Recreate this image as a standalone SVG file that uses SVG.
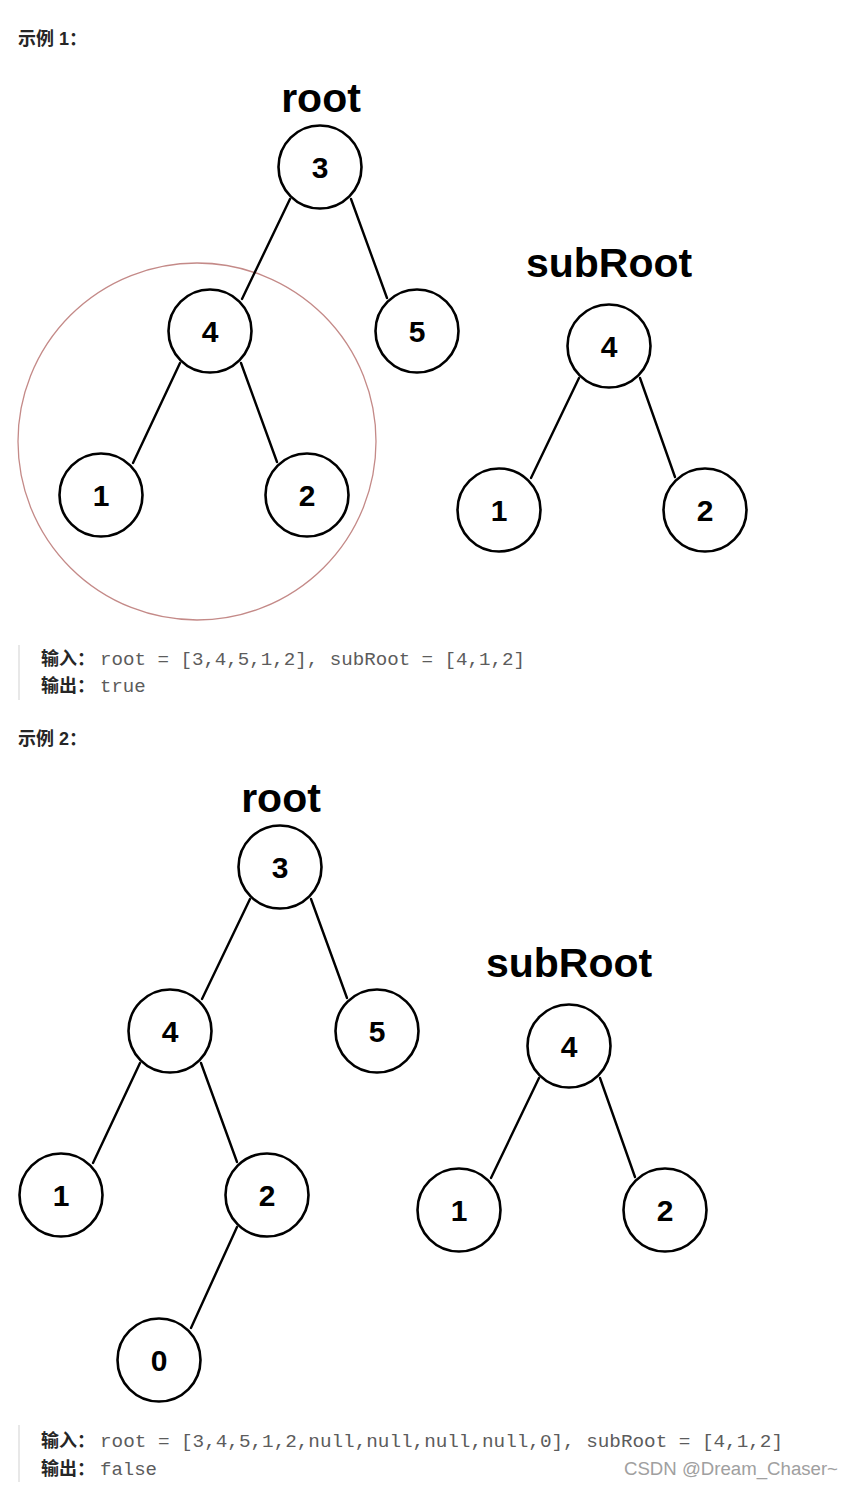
<svg xmlns="http://www.w3.org/2000/svg" width="854" height="1487" viewBox="0 0 854 1487">
<style>
.bg{fill:#ffffff}
.node circle{fill:#ffffff;stroke:#000000;stroke-width:2.6}
.node text{font-family:"Liberation Sans",Arial,sans-serif;font-weight:bold;font-size:30px;fill:#000000;text-anchor:middle}
.edges line{stroke:#000000;stroke-width:2.4;stroke-linecap:round}
.lbl{font-family:"Liberation Sans",Arial,sans-serif;font-weight:bold;font-size:41px;fill:#000000;text-anchor:middle}
.hd{font-family:"Liberation Sans","Noto Sans CJK SC",sans-serif;font-weight:bold;font-size:18px;fill:#262626}
.k{font-family:"Liberation Sans","Noto Sans CJK SC",sans-serif;font-weight:bold;font-size:18px;fill:#262626}
.code{font-family:"Liberation Mono","DejaVu Sans Mono",monospace;font-size:19px;fill:#5c5c5c}
.bar{fill:#e8e8e8}
.wm{font-family:"Liberation Sans",Arial,sans-serif;font-size:18px;fill:#a0a0a0}
</style>
<rect class="bg" x="0" y="0" width="854" height="1487"/>

<!-- Example 1 -->
<text class="hd" x="18" y="45">示例 1：</text>
<ellipse id="highlight" cx="197" cy="441.5" rx="179" ry="178.5" fill="none" stroke="#c48a88" stroke-width="1.3"/>
<text id="root1-label" class="lbl" x="321" y="112">root</text>
<text id="sub1-label" class="lbl" x="609" y="277">subRoot</text>
<g id="edges1" class="edges">
<line x1="290" y1="199" x2="242" y2="299"/>
<line x1="351" y1="199" x2="387" y2="298"/>
<line x1="180" y1="363" x2="133" y2="463"/>
<line x1="241" y1="363" x2="277" y2="462"/>
<line x1="579" y1="378" x2="531" y2="478"/>
<line x1="640" y1="378" x2="675" y2="477"/>
</g>
<g id="e1-n3" class="node"><circle cx="320" cy="167" r="41.5"/><text x="320" y="178">3</text></g>
<g id="e1-n4" class="node"><circle cx="210" cy="331" r="41.5"/><text x="210" y="342">4</text></g>
<g id="e1-n5" class="node"><circle cx="417" cy="331" r="41.5"/><text x="417" y="342">5</text></g>
<g id="e1-n1" class="node"><circle cx="101" cy="495" r="41.5"/><text x="101" y="506">1</text></g>
<g id="e1-n2" class="node"><circle cx="307" cy="495" r="41.5"/><text x="307" y="506">2</text></g>
<g id="e1-s4" class="node"><circle cx="609" cy="346" r="41.5"/><text x="609" y="357">4</text></g>
<g id="e1-s1" class="node"><circle cx="499" cy="510" r="41.5"/><text x="499" y="521">1</text></g>
<g id="e1-s2" class="node"><circle cx="705" cy="510" r="41.5"/><text x="705" y="521">2</text></g>

<rect class="bar" x="18" y="645" width="2" height="55"/>
<text class="k" x="41" y="665">输入：</text>
<text class="code" x="100" y="665" textLength="425" lengthAdjust="spacingAndGlyphs">root = [3,4,5,1,2], subRoot = [4,1,2]</text>
<text class="k" x="41" y="692">输出：</text>
<text class="code" x="100" y="692">true</text>

<!-- Example 2 -->
<text class="hd" x="18" y="745">示例 2：</text>
<text id="root2-label" class="lbl" x="281" y="812">root</text>
<text id="sub2-label" class="lbl" x="569" y="977">subRoot</text>
<g id="edges2" class="edges">
<line x1="250" y1="899" x2="202" y2="999"/>
<line x1="311" y1="899" x2="347" y2="998"/>
<line x1="140" y1="1063" x2="93" y2="1163"/>
<line x1="201" y1="1063" x2="237" y2="1162"/>
<line x1="237" y1="1227" x2="191" y2="1328"/>
<line x1="539" y1="1078" x2="491" y2="1178"/>
<line x1="600" y1="1078" x2="635" y2="1177"/>
</g>
<g id="e2-n3" class="node"><circle cx="280" cy="867" r="41.5"/><text x="280" y="878">3</text></g>
<g id="e2-n4" class="node"><circle cx="170" cy="1031" r="41.5"/><text x="170" y="1042">4</text></g>
<g id="e2-n5" class="node"><circle cx="377" cy="1031" r="41.5"/><text x="377" y="1042">5</text></g>
<g id="e2-n1" class="node"><circle cx="61" cy="1195" r="41.5"/><text x="61" y="1206">1</text></g>
<g id="e2-n2" class="node"><circle cx="267" cy="1195" r="41.5"/><text x="267" y="1206">2</text></g>
<g id="e2-n0" class="node"><circle cx="159" cy="1360" r="41.5"/><text x="159" y="1371">0</text></g>
<g id="e2-s4" class="node"><circle cx="569" cy="1046" r="41.5"/><text x="569" y="1057">4</text></g>
<g id="e2-s1" class="node"><circle cx="459" cy="1210" r="41.5"/><text x="459" y="1221">1</text></g>
<g id="e2-s2" class="node"><circle cx="665" cy="1210" r="41.5"/><text x="665" y="1221">2</text></g>

<rect class="bar" x="18" y="1425" width="2" height="57"/>
<text class="k" x="41" y="1447">输入：</text>
<text class="code" x="100" y="1447" textLength="683" lengthAdjust="spacingAndGlyphs">root = [3,4,5,1,2,null,null,null,null,0], subRoot = [4,1,2]</text>
<text class="k" x="41" y="1475">输出：</text>
<text class="code" x="100" y="1475">false</text>
<text class="wm" x="624" y="1475" textLength="214" lengthAdjust="spacingAndGlyphs">CSDN @Dream_Chaser~</text>
</svg>
